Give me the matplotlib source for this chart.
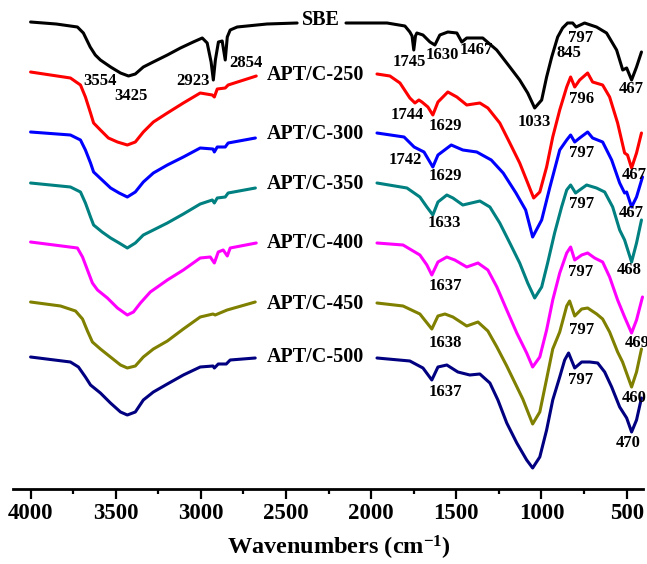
import numpy as np
import matplotlib
matplotlib.use("Agg")
import matplotlib.pyplot as plt
from matplotlib.ticker import MultipleLocator

# ---------------- data (wavenumber cm-1, relative transmittance a.u.) ----------------
SBE_LEFT = [(4000, 0), (3850, -2), (3725, -5), (3690, -11), (3650, -25), (3620, -33), (3590, -38),
            (3530, -45), (3472, -51), (3425, -54), (3385, -52), (3338, -45), (3280, -40), (3197, -33),
            (3120, -26), (3045, -20), (2992, -16), (2963, -21), (2940, -40), (2927, -58), (2915, -38),
            (2897, -20), (2875, -19), (2857, -38), (2845, -15), (2828, -8), (2787, -5), (2612, -2),
            (2435, -1)]
SBE_RIGHT = [(2148, -1), (1907, -1), (1802, -4), (1773, -10), (1760, -14), (1750, -28), (1740, -14),
             (1732, -11), (1696, -13), (1655, -20), (1626, -23), (1597, -13), (1550, -10), (1497, -11),
             (1468, -20), (1439, -16), (1345, -16), (1263, -28), (1186, -45), (1128, -58), (1081, -71),
             (1040, -86), (999, -78), (970, -55), (940, -35), (905, -15), (876, -6), (847, -1),
             (817, -1), (797, -5), (747, -1), (677, -5), (618, -11), (559, -28), (523, -48),
             (500, -46), (471, -58), (442, -45), (413, -30)]

C250_LEFT = [(4000, 0), (3766, -6), (3707, -13), (3678, -25), (3648, -41), (3630, -51), (3590, -58),
             (3543, -66), (3490, -70), (3432, -73), (3385, -70), (3338, -60), (3279, -50), (3197, -41),
             (3103, -31), (3004, -21), (2933, -23), (2921, -25), (2904, -17), (2857, -16), (2840, -13),
             (2693, -5), (2675, -4)]
C250_RIGHT = [(1966, -2), (1890, -4), (1831, -11), (1773, -26), (1743, -31), (1720, -28), (1702, -30),
              (1667, -35), (1638, -43), (1608, -30), (1550, -20), (1497, -25), (1439, -33), (1362, -31),
              (1315, -36), (1245, -51), (1186, -71), (1128, -91), (1081, -111), (1046, -126),
              (1010, -120), (970, -95), (934, -65), (893, -38), (852, -15), (829, -5), (805, -15),
              (776, -8), (729, -1), (700, -10), (641, -13), (600, -25), (553, -51), (512, -81),
              (495, -83), (471, -96), (442, -81), (413, -61)]

C300_LEFT = [(4000, 0), (3766, -3), (3707, -8), (3678, -18), (3648, -31), (3630, -40), (3580, -48),
             (3530, -56), (3480, -61), (3432, -65), (3385, -60), (3338, -50), (3279, -41), (3197, -33),
             (3103, -25), (3004, -16), (2929, -17), (2921, -20), (2904, -15), (2857, -15), (2840, -11),
             (2680, -6)]
C300_RIGHT = [(1966, -1), (1807, -5), (1748, -15), (1690, -20), (1638, -35), (1608, -23), (1530, -13),
              (1462, -18), (1380, -20), (1295, -28), (1225, -41), (1150, -61), (1093, -78),
              (1052, -105), (999, -88), (952, -56), (893, -18), (852, -8), (829, -3), (805, -10),
              (776, -6), (729, 0), (700, -6), (641, -10), (588, -28), (541, -51), (512, -61),
              (500, -60), (471, -75), (442, -65), (407, -45)]

C350_LEFT = [(4000, 0), (3766, -4), (3707, -9), (3678, -20), (3648, -34), (3630, -42), (3580, -49),
             (3530, -55), (3480, -60), (3432, -65), (3385, -60), (3338, -52), (3279, -47), (3197, -40),
             (3103, -31), (3004, -21), (2933, -17), (2921, -20), (2904, -15), (2857, -14), (2840, -10),
             (2680, -5)]
C350_RIGHT = [(1966, 0), (1790, -5), (1714, -14), (1673, -24), (1638, -32), (1608, -19), (1556, -12),
              (1520, -15), (1462, -22), (1362, -18), (1303, -24), (1245, -40), (1186, -60),
              (1128, -80), (1081, -100), (1040, -115), (999, -104), (964, -80), (923, -50),
              (882, -24), (852, -7), (829, -2), (800, -10), (776, -7), (735, -2), (677, -5),
              (629, -9), (582, -24), (541, -47), (512, -57), (471, -79), (442, -60), (413, -37)]

C400_LEFT = [(4000, 0), (3725, -6), (3695, -15), (3666, -28), (3637, -41), (3607, -48), (3549, -56),
             (3490, -66), (3432, -73), (3396, -70), (3355, -61), (3297, -50), (3197, -38), (3103, -28),
             (3004, -16), (2945, -15), (2921, -21), (2898, -10), (2869, -8), (2845, -14), (2828, -6),
             (2675, -1)]
C400_RIGHT = [(1966, -1), (1813, -3), (1714, -13), (1673, -23), (1644, -33), (1608, -20), (1556, -15),
              (1509, -18), (1439, -25), (1373, -21), (1315, -28), (1262, -45), (1204, -68),
              (1145, -91), (1087, -111), (1052, -125), (1010, -115), (970, -88), (934, -58),
              (893, -31), (852, -11), (829, -5), (805, -18), (764, -13), (729, -11), (688, -16),
              (641, -20), (600, -35), (553, -58), (512, -75), (471, -91), (442, -78), (407, -55)]

C450_LEFT = [(4000, 0), (3824, -4), (3736, -9), (3695, -17), (3666, -29), (3637, -40), (3590, -47),
             (3531, -55), (3472, -63), (3432, -66), (3385, -64), (3338, -55), (3279, -47), (3197, -39),
             (3103, -27), (3004, -15), (2929, -12), (2916, -13), (2846, -8), (2681, 0)]
C450_RIGHT = [(1966, -1), (1813, -4), (1714, -12), (1644, -27), (1608, -14), (1567, -12), (1520, -15),
              (1439, -24), (1373, -20), (1315, -29), (1262, -45), (1204, -64), (1110, -97),
              (1052, -122), (1010, -110), (970, -77), (934, -47), (893, -30), (852, -4), (835, 1),
              (805, -14), (764, -7), (729, -6), (676, -12), (641, -17), (600, -30), (553, -50),
              (524, -60), (471, -85), (442, -70), (413, -47)]

C500_LEFT = [(4000, 0), (3766, -5), (3719, -10), (3678, -20), (3648, -28), (3590, -36), (3531, -46),
             (3472, -55), (3432, -58), (3385, -55), (3338, -43), (3279, -35), (3197, -27), (3103, -18),
             (3004, -10), (2929, -9), (2921, -11), (2898, -7), (2851, -7), (2828, -3), (2681, -1)]
C500_RIGHT = [(1966, -1), (1773, -4), (1696, -11), (1644, -23), (1608, -10), (1556, -8), (1491, -15),
              (1421, -18), (1362, -17), (1303, -26), (1256, -43), (1204, -66), (1145, -86),
              (1087, -103), (1052, -111), (1010, -100), (970, -73), (934, -43), (893, -20),
              (864, -3), (841, 4), (805, -11), (764, -5), (717, -5), (670, -6), (629, -15),
              (588, -30), (541, -50), (500, -61), (471, -75), (442, -63), (413, -41)]

SERIES_NAMES = ["SBE", "APT/C-250", "APT/C-300", "APT/C-350", "APT/C-400", "APT/C-450", "APT/C-500"]
OFFSETS = [467, 417, 357, 306, 247, 187, 132]
COLORS = ["#000000", "#ff0000", "#0000ff", "#008080", "#ff00ff", "#808000", "#000080"]
SEGMENTS = [(SBE_LEFT, SBE_RIGHT), (C250_LEFT, C250_RIGHT), (C300_LEFT, C300_RIGHT),
            (C350_LEFT, C350_RIGHT), (C400_LEFT, C400_RIGHT), (C450_LEFT, C450_RIGHT),
            (C500_LEFT, C500_RIGHT)]

# name label anchors (wavenumber of left edge, a.u.)
NAME_POS = [(2405, 469), (2615, 414), (2615, 355), (2615, 305), (2615, 246), (2615, 185), (2615, 132)]

# peak annotations: (text, wavenumber, a.u.)
PEAK_LABELS = [
    ("3554", 3590, 408), ("3425", 3408, 393), ("2923", 3045, 408), ("2854", 2734, 426),
    ("1745", 1778, 427), ("1630", 1585, 434), ("1467", 1380, 439), ("797", 772, 451),
    ("845", 838, 436), ("1033", 1040, 367), ("467", 471, 400),
    ("1744", 1790, 374), ("1629", 1567, 363), ("796", 764, 390), ("467", 454, 314),
    ("1742", 1802, 329), ("1629", 1567, 313), ("797", 764, 336), ("467", 471, 276),
    ("1633", 1573, 266), ("797", 764, 285), ("468", 483, 219),
    ("1637", 1567, 203), ("797", 770, 217), ("469", 436, 146),
    ("1638", 1567, 146), ("797", 764, 159), ("460", 454, 91),
    ("1637", 1567, 97), ("797", 770, 109), ("470", 489, 46),
]

XTICKS = [4000, 3500, 3000, 2500, 2000, 1500, 1000, 500]

# ---------------- plotting ----------------
plt.rcParams["font.family"] = ["Liberation Serif", "DejaVu Serif"]
plt.rcParams["font.weight"] = "bold"
plt.rcParams["mathtext.fontset"] = "custom"
plt.rcParams["mathtext.rm"] = "Liberation Serif:bold"
plt.rcParams["mathtext.it"] = "Liberation Serif:bold"
plt.rcParams["mathtext.bf"] = "Liberation Serif:bold"
plt.rcParams["mathtext.default"] = "rm"

W, H = 647, 564
fig = plt.figure(figsize=(W / 100, H / 100), dpi=100)
ax = fig.add_axes([12.7 / W, (H - 489) / H, (643 - 12.7) / W, 489 / H])
ax.set_xlim(4105, 404)
ax.set_ylim(0, 489)

for (left, right), off, col in zip(SEGMENTS, OFFSETS, COLORS):
    lw_, lt_ = zip(*left)
    rw_, rt_ = zip(*right)
    wn = np.concatenate([lw_, [np.nan], rw_])
    t = np.concatenate([lt_, [np.nan], rt_]) + off
    ax.plot(wn, t, color=col, lw=2.2, solid_joinstyle="round", solid_capstyle="round", clip_on=False)

for name, (xw, yv) in zip(SERIES_NAMES, NAME_POS):
    ax.text(xw, yv, name, ha="left", va="center", fontsize=14.5, fontweight="bold")

for txt, xw, yv in PEAK_LABELS:
    ax.text(xw, yv, txt, ha="center", va="center", fontsize=12, fontweight="bold", clip_on=False)

for s in ["top", "left", "right"]:
    ax.spines[s].set_visible(False)
ax.spines["bottom"].set_linewidth(2.0)
ax.set_yticks([])
ax.set_xticks(XTICKS)
ax.set_xticklabels([str(v) for v in XTICKS])
ax.xaxis.set_minor_locator(MultipleLocator(250))
ax.tick_params(axis="x", which="major", direction="out", length=7, width=1.6, labelsize=16.5, pad=3)
ax.tick_params(axis="x", which="minor", direction="out", length=3.5, width=1.6)
for lab in ax.get_xticklabels():
    lab.set_fontweight("bold")

fig.text(339 / W, 1 - 548 / H, "Wavenumbers (cm$^{-1}$)", ha="center", va="center",
         fontsize=17.5, fontweight="bold")

fig.savefig("out.png", dpi=100)
